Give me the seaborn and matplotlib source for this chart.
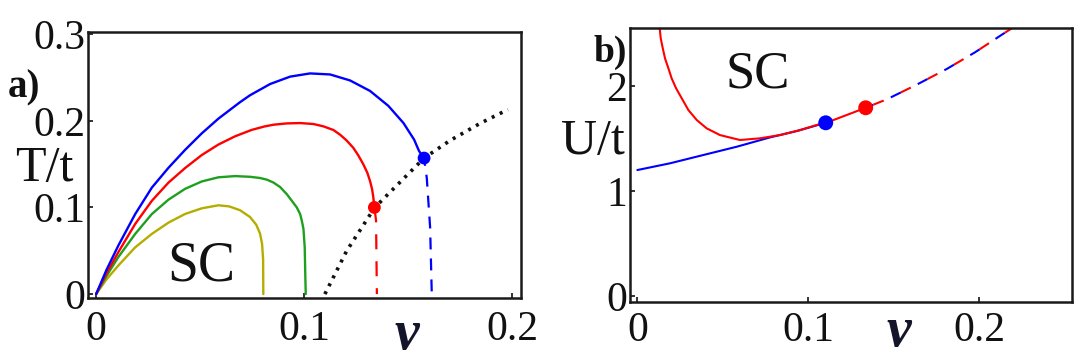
import matplotlib
matplotlib.use("Agg")
import matplotlib.pyplot as plt
import seaborn as sns

# ---------------- panel a) : T/t versus nu ----------------
nu_yellow = [0, 0.005, 0.0107, 0.0188, 0.0268, 0.0348, 0.0428, 0.0508, 0.0588,
             0.0640, 0.0692, 0.0740, 0.0770, 0.0788, 0.0798, 0.0803, 0.0804]
T_yellow = [0, 0.017, 0.033, 0.054, 0.0695, 0.0825, 0.0925, 0.099, 0.1025,
            0.1012, 0.0968, 0.089, 0.080, 0.070, 0.058, 0.040, 0.0]

nu_green = [0, 0.005, 0.0107, 0.0188, 0.0268, 0.0348, 0.0428, 0.0508, 0.0588,
            0.0668, 0.0740, 0.0788, 0.0821, 0.0853, 0.0885, 0.0917, 0.0941,
            0.0965, 0.0981, 0.0989, 0.0997, 0.1003, 0.1006, 0.1008]
T_green = [0, 0.021, 0.0428, 0.0695, 0.0924, 0.1090, 0.1215, 0.1300, 0.1348,
           0.1362, 0.1354, 0.1340, 0.1321, 0.1287, 0.1235, 0.1153, 0.1077,
           0.100, 0.0924, 0.0848, 0.0752, 0.0542, 0.0198, 0.0]

nu_red = [0, 0.005, 0.0107, 0.0188, 0.0268, 0.0348, 0.0428, 0.0508, 0.0588,
          0.0668, 0.0748, 0.0810, 0.0853, 0.0917, 0.0981, 0.1045, 0.1093,
          0.1141, 0.1173, 0.1205, 0.1237, 0.1261, 0.1285, 0.1304, 0.1317,
          0.1327, 0.1333, 0.1338]
T_red = [0, 0.024, 0.0485, 0.081, 0.1077, 0.1287, 0.1455, 0.1605, 0.1726,
         0.1821, 0.1895, 0.1935, 0.1955, 0.1970, 0.1974, 0.1963, 0.1936,
         0.1894, 0.1840, 0.1772, 0.1687, 0.1600, 0.1497, 0.1401, 0.1306,
         0.1211, 0.1115, 0.100]

nu_blue = [0, 0.005, 0.0107, 0.0188, 0.0268, 0.0348, 0.0428, 0.0508, 0.0588,
           0.0692, 0.0740, 0.0837, 0.0933, 0.1029, 0.1125, 0.1221, 0.1317,
           0.1405, 0.1478, 0.1529, 0.1553, 0.1577]
T_blue = [0, 0.028, 0.0561, 0.0924, 0.1229, 0.1458, 0.1665, 0.1855, 0.2025,
          0.2215, 0.2295, 0.2425, 0.2510, 0.2547, 0.2535, 0.2466, 0.2345,
          0.2173, 0.1974, 0.1783, 0.1650, 0.157]

nu_red_dash = [0.1338, 0.1346, 0.1350]
T_red_dash = [0.100, 0.085, 0.0]
nu_blue_dash = [0.1577, 0.1590, 0.1606, 0.1614]
T_blue_dash = [0.157, 0.134, 0.077, 0.0]

nu_boundary = [0.110, 0.1205, 0.134, 0.1577, 0.170, 0.1846, 0.198]
T_boundary = [0.0, 0.050, 0.100, 0.157, 0.177, 0.197, 0.213]

dot_a_nu = [0.1338, 0.1577]
dot_a_T = [0.100, 0.157]
dot_a_col = ["#ff0000", "#0000ff"]

xticks_a = [0, 0.1, 0.2]
xlabels_a = ["0", "0.1", "0.2"]
yticks_a = [0, 0.1, 0.2, 0.3]
ylabels_a = ["0", "0.1", "0.2", "0.3"]

# ---------------- panel b) : U/t versus nu ----------------
nu_b_red = [0.0125, 0.0131, 0.0137, 0.0149, 0.0162, 0.0182, 0.0201, 0.0227,
            0.0260, 0.0299, 0.0348, 0.0406, 0.0484, 0.0601, 0.0718, 0.0835,
            0.0953, 0.1050, 0.1148, 0.1337]
U_b_red = [2.62, 2.55, 2.454, 2.359, 2.264, 2.168, 2.073, 1.978,
           1.883, 1.771, 1.676, 1.597, 1.533, 1.486, 1.502, 1.533,
           1.581, 1.629, 1.676, 1.793]

nu_b_blue = [0.0, 0.0191, 0.0386, 0.0582, 0.0777, 0.0933, 0.1103]
U_b_blue = [1.20, 1.264, 1.343, 1.422, 1.511, 1.571, 1.65]

nu_b_dash = [0.1337, 0.1464, 0.1639, 0.1811, 0.1977, 0.2137, 0.225]
U_b_dash = [1.793, 1.876, 2.016, 2.162, 2.321, 2.492, 2.61]

dot_b_nu = [0.1103, 0.1337]
dot_b_U = [1.65, 1.793]
dot_b_col = ["#0000ff", "#ff0000"]

xticks_b = [0, 0.1, 0.2]
xlabels_b = ["0", "0.1", "0.2"]
yticks_b = [0, 1, 2]
ylabels_b = ["0", "1", "2"]

# ---------------- styling ----------------
sns.set_theme(style="white")
plt.rcParams["font.family"] = ["Liberation Serif", "DejaVu Serif"]
plt.rcParams["lines.scale_dashes"] = False

W, H = 1085, 360
fig = plt.figure(figsize=(W / 100, H / 100), dpi=100)
fig.patch.set_facecolor("white")


def px_rect(l, t, r, b):
    return [l / W, 1 - b / H, (r - l) / W, (b - t) / H]


ax1 = fig.add_axes(px_rect(88, 32, 521, 298))
ax2 = fig.add_axes(px_rect(630, 28.3, 1072, 301.7))

BLUE, RED, GREEN, YELLOW = "#0000ff", "#ff0000", "#1ea01e", "#b4ad00"


def line(ax, x, y, color, lw, ls=None, z=2, cap="butt"):
    sns.lineplot(x=x, y=y, ax=ax, color=color, lw=lw, sort=False,
                 estimator=None, zorder=z)
    ln = ax.lines[-1]
    if ls is not None:
        ln.set_linestyle(ls)
    ln.set_dash_capstyle(cap)
    ln.set_solid_capstyle("round")
    ln.set_solid_joinstyle("round")
    return ln


# panel a
line(ax1, nu_yellow, T_yellow, YELLOW, 1.7)
line(ax1, nu_green, T_green, GREEN, 1.7)
line(ax1, nu_red, T_red, RED, 1.7)
line(ax1, nu_blue, T_blue, BLUE, 1.7)
line(ax1, nu_red_dash, T_red_dash, RED, 1.6, (0, (10.8, 8.6)))
line(ax1, nu_blue_dash, T_blue_dash, BLUE, 1.6, (3, (8.6, 6.5)))
line(ax1, nu_boundary, T_boundary, "#111111", 2.6, (0, (2.2, 4.2)), z=3)
sns.scatterplot(x=dot_a_nu, y=dot_a_T, hue=dot_a_col, palette=dot_a_col,
                s=85, linewidth=0, ax=ax1, zorder=5, legend=False)

ax1.set_xlim(-0.0039, 0.2043)
ax1.set_ylim(-0.0045, 0.3025)
ax1.set_xticks(xticks_a, xlabels_a)
ax1.set_yticks(yticks_a, ylabels_a)

# panel b
line(ax2, nu_b_blue, U_b_blue, BLUE, 1.5)
line(ax2, nu_b_red, U_b_red, RED, 1.5)
line(ax2, nu_b_dash, U_b_dash, BLUE, 1.5, (2, (8, 13.6)))
line(ax2, nu_b_dash, U_b_dash, RED, 1.5, (15.6, (8, 13.6)))
sns.scatterplot(x=dot_b_nu, y=dot_b_U, hue=dot_b_col, palette=dot_b_col,
                s=115, linewidth=0, ax=ax2, zorder=5, legend=False)

ax2.set_xlim(-0.0043, 0.2545)
ax2.set_ylim(-0.054, 2.55)
ax2.set_xticks(xticks_b, xlabels_b)
ax2.set_yticks(yticks_b, ylabels_b)

for ax, xpad in ((ax1, 9), (ax2, 7)):
    ax.set_xlabel("")
    ax.set_ylabel("")
    for sp in ax.spines.values():
        sp.set_visible(True)
        sp.set_linewidth(1.8)
        sp.set_color("#1a1a1a")
    ax.tick_params(axis="both", direction="in", length=3.5, width=1.2,
                   colors="#111111", labelsize=30, bottom=True, left=True,
                   top=False, right=False)
    ax.tick_params(axis="x", pad=xpad)
    ax.tick_params(axis="y", pad=2)
    ax.set_facecolor("white")


def ftext(x, y, s, **kw):
    fig.text(x / W, 1 - y / H, s, **kw)


ftext(201, 266.5, "SC", fontsize=40, ha="center", va="center", color="#111111")
ftext(758, 74, "SC", fontsize=38, ha="center", va="center", color="#111111")
ftext(44, 169, "T/t", fontsize=36, ha="center", va="center", color="#111111")
ftext(593, 142, "U/t", fontsize=36, ha="center", va="center", color="#111111")
ftext(24, 88, "a)", fontsize=28, fontweight="bold", ha="center", va="center",
      color="#111111")
ftext(610, 52, "b)", fontsize=27, fontweight="bold", ha="center", va="center",
      color="#111111")
ftext(407, 349, "ν", fontsize=40, fontweight="bold", fontstyle="italic",
      ha="center", va="baseline", color="#14142a")
ftext(899, 346, "ν", fontsize=40, fontweight="bold", fontstyle="italic",
      ha="center", va="baseline", color="#14142a")

fig.savefig("out.png", dpi=100, facecolor="white")
